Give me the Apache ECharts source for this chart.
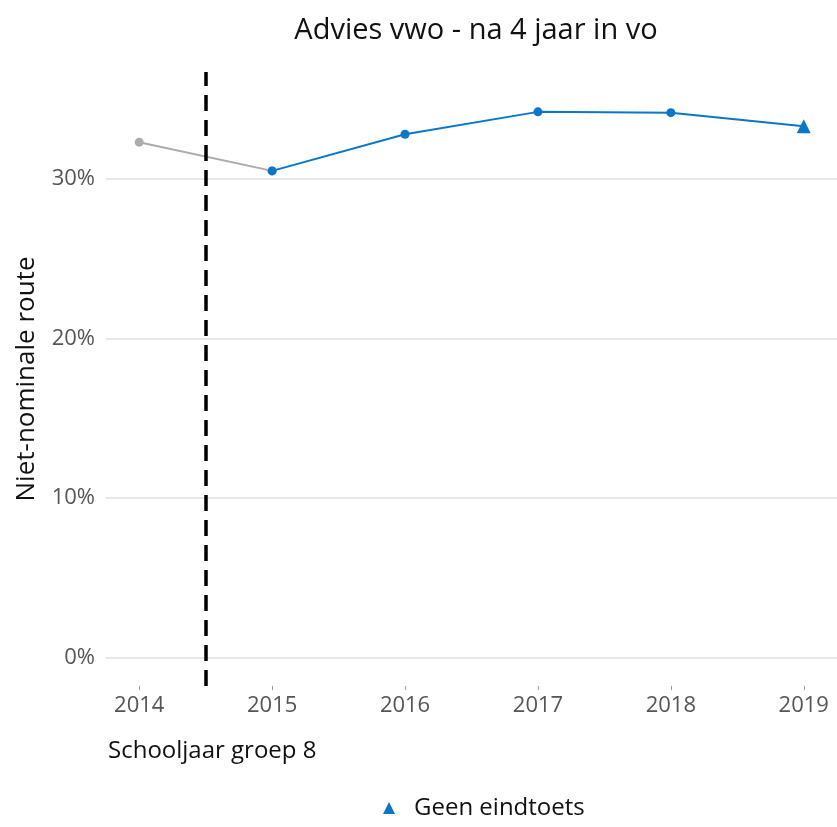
<!DOCTYPE html>
<html><head><meta charset="utf-8">
<script src="https://cdn.jsdelivr.net/npm/echarts@6/dist/echarts.min.js"></script>
<style>html,body{margin:0;padding:0;background:#fff}#c{width:837px;height:827px}</style>
</head><body><div id="c"></div>
<script>
const years = [2014, 2015, 2016, 2017, 2018, 2019];
const values = [32.3, 30.5, 32.8, 34.2, 34.15, 33.3];
const yTicks = [0, 10, 20, 30];
const titleText = 'Advies vwo - na 4 jaar in vo';
const xName = 'Schooljaar groep 8';
const yName = 'Niet-nominale route';
const seriesName = 'Geen eindtoets';
const splitYear = 2014.5;

const FONT = 'Open Sans';
const blue = '#0a77c6';
const grey = '#ababab';

const greyData = [[years[0], values[0]], [years[1], values[1]]];
const blueData = years.slice(1).map((y, i) => {
  const v = values[i + 1];
  if (i === years.length - 2) return { value: [y, v], symbol: 'triangle', symbolSize: 14 };
  return { value: [y, v] };
});

const chart = echarts.init(document.getElementById('c'));
chart.setOption({
  animation: false,
  textStyle: { fontFamily: FONT },
  title: [
    {
      text: titleText, left: 471, top: 11, textAlign: 'center',
      textStyle: { fontFamily: FONT, fontSize: 29, fontWeight: 'normal', color: '#111' }
    },
    {
      text: xName, left: 103, top: 734,
      textStyle: { fontFamily: FONT, fontSize: 24, fontWeight: 'normal', color: '#111' }
    }
  ],
  legend: {
    bottom: 2, left: 378, icon: 'triangle', itemWidth: 12, itemHeight: 12,
    data: [{ name: seriesName, icon: 'triangle' }],
    textStyle: { fontFamily: FONT, fontSize: 24, color: '#111', padding: [0, 0, 0, 14] }
  },
  grid: { left: 106, right: 0, top: 72, bottom: 141, containLabel: false, outerBoundsMode: 'none' },
  xAxis: {
    type: 'value', min: 2013.75, max: 2019.25,
    axisLine: { show: false, onZero: false },
    axisTick: { show: true, length: 4, lineStyle: { color: '#999' }, customValues: years },
    axisLabel: { customValues: years, fontFamily: FONT, fontSize: 22, color: '#555', margin: 9, formatter: v => String(v) },
    splitLine: { show: false }
  },
  yAxis: {
    type: 'value', min: -1.8, max: 36.7,
    name: yName, nameLocation: 'middle', nameGap: 66, nameRotate: 90,
    nameTextStyle: { fontFamily: FONT, fontSize: 26, color: '#111' },
    axisLine: { show: false },
    axisTick: { show: false, customValues: yTicks },
    axisLabel: { customValues: yTicks, fontFamily: FONT, fontSize: 22, color: '#555', margin: 11, formatter: v => v + '%' },
    splitLine: { show: true, lineStyle: { color: '#e8e8e8', width: 2 } }
  },
  series: [
    {
      name: 'voor', type: 'line', data: greyData, symbol: 'circle', symbolSize: 9,
      lineStyle: { color: grey, width: 2 }, itemStyle: { color: grey },
      z: 2,
      markLine: {
        silent: true, symbol: 'none', label: { show: false },
        lineStyle: { color: '#000', width: 3.5, type: [16, 9] },
        data: [{ xAxis: splitYear }]
      }
    },
    {
      name: seriesName, type: 'line', data: blueData, symbol: 'circle', symbolSize: 9,
      lineStyle: { color: blue, width: 2 }, itemStyle: { color: blue }, z: 3
    }
  ]
});
</script></body></html>
